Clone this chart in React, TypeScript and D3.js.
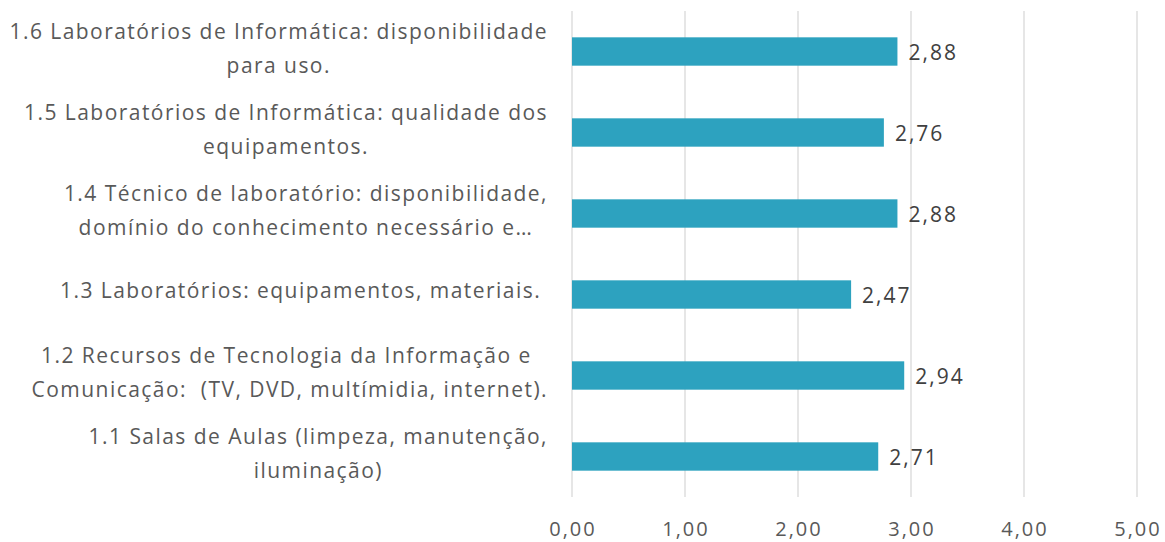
import React, { useEffect, useRef } from "react";
import * as d3 from "d3";

const categories: string[][] = [
  ["1.6 Laboratórios de Informática: disponibilidade", "para uso."],
  ["1.5 Laboratórios de Informática: qualidade dos", "equipamentos."],
  ["1.4 Técnico de laboratório: disponibilidade,", "domínio do conhecimento necessário e…"],
  ["1.3 Laboratórios: equipamentos, materiais. "],
  ["1.2 Recursos de Tecnologia da Informação e ", "Comunicação:  (TV, DVD, multímidia, internet)."],
  ["1.1 Salas de Aulas (limpeza, manutenção,", "iluminação)"],
];
const ids = ["1.6", "1.5", "1.4", "1.3", "1.2", "1.1"];
const values = [2.88, 2.76, 2.88, 2.47, 2.94, 2.71];
const ticks = [0, 1, 2, 3, 4, 5];

const W = 1165;
const H = 542;
const FONT = "'Open Sans', 'Noto Sans', sans-serif";

export default function App() {
  const ref = useRef<SVGSVGElement>(null);
  useEffect(() => {
    const svg = d3.select(ref.current);
    svg.selectAll("*").remove();
    const x = d3.scaleLinear().domain([0, 5]).range([572, 1137]);
    const y = d3.scaleBand<string>().domain(ids).range([11, 497]).paddingInner(0.65).paddingOuter(0.325);
    const fmt = (v: number) => v.toFixed(2).replace(".", ",");

    // gridlines
    svg.append("g").selectAll("line").data(ticks).join("line")
      .attr("x1", (d) => x(d)).attr("x2", (d) => x(d))
      .attr("y1", 11).attr("y2", 497)
      .attr("stroke", "#d9d9d9").attr("stroke-width", 1.3);

    // bars
    svg.append("g").selectAll("rect").data(values).join("rect")
      .attr("x", x(0))
      .attr("y", (_, i) => y(ids[i])!)
      .attr("width", (d) => x(d) - x(0))
      .attr("height", y.bandwidth())
      .attr("fill", "#2DA2BF");

    // value labels
    svg.append("g").selectAll("text").data(values).join("text")
      .attr("x", (d) => x(d) + 11)
      .attr("y", (_, i) => y(ids[i])! + y.bandwidth() / 2 + 8)
      .attr("font-family", FONT).attr("font-size", 21).attr("fill", "#404040")
      .attr("letter-spacing", 2)
      .text((d) => fmt(d));

    // tick labels
    svg.append("g").selectAll("text").data(ticks).join("text")
      .attr("x", (d) => x(d) + 1).attr("y", 536)
      .attr("text-anchor", "middle")
      .attr("font-family", FONT).attr("font-size", 20).attr("fill", "#595959")
      .attr("letter-spacing", 2)
      .text((d) => fmt(d));

    // category labels
    const cg = svg.append("g");
    categories.forEach((lines, i) => {
      const c = y(ids[i])! + y.bandwidth() / 2;
      const g = cg.append("g");
      const texts = lines.map((ln, j) => {
        const base = lines.length === 1 ? c + 3 : c + 4.5 + (j - 0.5) * 34;
        return g.append("text")
          .attr("y", base)
          .attr("font-family", FONT).attr("font-size", 21).attr("fill", "#595959")
          .attr("letter-spacing", 1.45)
          .attr("text-anchor", "middle")
          .style("white-space", "pre")
          .text(ln);
      });
      const widths = texts.map((t) => (t.node() as SVGTextElement).getComputedTextLength());
      const maxW = Math.max(...widths);
      const cx = 548 - maxW / 2;
      texts.forEach((t) => t.attr("x", cx));
    });
  }, []);
  return (
    <svg ref={ref} width={W} height={H} style={{ position: "absolute", left: 0, top: 0, background: "#fff" }} />
  );
}
